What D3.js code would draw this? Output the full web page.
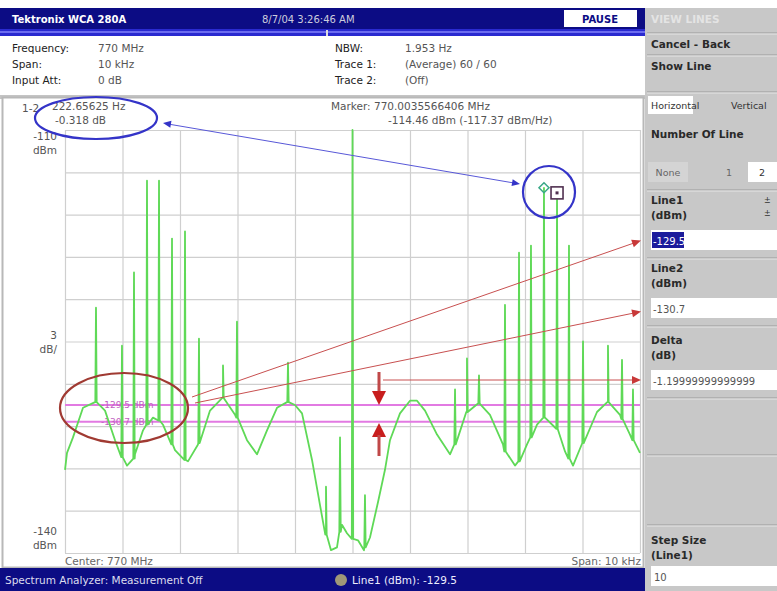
<!DOCTYPE html>
<html><head><meta charset="utf-8">
<script src="https://cdn.jsdelivr.net/npm/d3@7"></script>
<style>html,body{margin:0;padding:0;background:#fff;}svg{display:block;font-family:"DejaVu Sans",sans-serif;}</style>
</head><body>
<svg id="c" width="777" height="591"></svg>
<script>
// ---------- data ----------
// noise floor: frequency offset from centre (kHz), level (dBm)
const floorFreq = [-5.0,-4.965,-4.861,-4.687,-4.478,-4.304,-4.13,-3.922,-3.783,-3.643,-3.47,-3.296,-3.087,-2.861,-2.687,-2.478,-2.252,-2.043,-1.835,-1.661,-1.487,-1.313,-1.139,-1.0,-0.878,-0.704,-0.565,-0.461,-0.374,-0.27,-0.183,-0.096,0.096,0.2,0.304,0.443,0.565,0.652,0.826,1.0,1.122,1.261,1.47,1.696,1.835,1.991,2.183,2.391,2.617,2.826,3.035,3.209,3.348,3.522,3.696,3.835,4.043,4.252,4.443,4.652,4.826,5.0];
const floorLevel = [-134.1,-132.9,-131.8,-129.7,-129.3,-129.9,-132.0,-133.8,-133.0,-131.3,-130.4,-130.9,-132.7,-133.5,-132.3,-129.9,-129.0,-130.2,-132.0,-133.0,-131.3,-129.7,-129.3,-129.5,-130.1,-133.4,-136.6,-138.7,-139.8,-139.6,-138.0,-138.6,-139.1,-139.8,-138.9,-136.4,-134.1,-132.0,-130.1,-129.2,-129.2,-129.9,-131.6,-133.0,-131.8,-130.0,-129.4,-130.2,-132.3,-133.8,-132.3,-130.9,-130.4,-131.1,-132.8,-133.8,-132.0,-130.0,-129.3,-130.2,-131.6,-132.9];
// spectral lines: frequency (kHz), peak (dBm), base (dBm)
const spikeFreq = [-4.461,-4.009,-3.8,-3.574,-3.365,-3.139,-2.913,-2.67,-2.252,-2.009,-1.122,-0.461,-0.217,0.0,0.217,1.783,1.991,2.2,2.652,2.896,3.104,3.33,3.557,3.765,4.009,4.443,4.687,4.878];
const spikePeak = [-122.6,-125.3,-120.1,-113.6,-113.6,-117.7,-117.2,-124.8,-126.7,-123.6,-126.5,-135.3,-131.8,-110.0,-135.9,-128.4,-126.2,-127.4,-122.4,-118.7,-118.2,-114.1,-114.46,-118.2,-125.0,-125.3,-126.3,-128.4];
const spikeBase = [-129.3,-133.2,-133.3,-130.9,-130.6,-132.3,-133.4,-132.2,-129.0,-130.4,-129.3,-138.7,-138.5,-139.0,-139.6,-132.3,-130.0,-129.4,-132.8,-133.5,-131.8,-130.4,-131.2,-133.3,-132.2,-129.3,-130.5,-132.0];
const xGridTicks = [-5,-4,-3,-2,-1,0,1,2,3,4,5];
const yGridTicks = [-140,-137,-134,-131,-128,-125,-122,-119,-116,-113,-110];
const refLines = [-129.5,-130.7];
const refLabels = ["-129.5 dBm","-130.7 dBm"];
const marker1 = {f:3.33, v:-114.1};
const marker2 = {f:3.557, v:-114.46};
const yTopLabel = ["-110","dBm"], yMidLabel = ["3","dB/"], yBotLabel = ["-140","dBm"];

// ---------- layout ----------
const svg = d3.select("#c");
const x = d3.scaleLinear().domain([-5,5]).range([65,640]);
const y = d3.scaleLinear().domain([-140,-110]).range([553,130]);
const NAVY = "#0c0c84";

function txt(g, s, px, py, o={}) {
  return g.append("text").attr("x",px).attr("y",py).text(s)
    .attr("font-size",o.size||10.5).attr("fill",o.fill||"#222")
    .attr("font-weight",o.weight||"normal").attr("text-anchor",o.anchor||"start")
    .attr("font-family",o.family||"DejaVu Sans, sans-serif");
}

// top bar
svg.append("rect").attr("x",0).attr("y",8).attr("width",645).attr("height",21).attr("fill",NAVY);
svg.append("rect").attr("x",0).attr("y",29).attr("width",645).attr("height",7).attr("fill","#2a2ad0");
svg.append("rect").attr("x",0).attr("y",31).attr("width",645).attr("height",2).attr("fill","#6c6cf0");
svg.append("rect").attr("x",326).attr("y",30).attr("width",2).attr("height",6).attr("fill","#ddd");
txt(svg,"Tektronix  WCA 280A",12,23,{fill:"#fff",size:10,weight:"bold"});
txt(svg,"8/7/04 3:26:46 AM",262,23,{fill:"#ccd",size:10});
svg.append("rect").attr("x",564).attr("y",10).attr("width",73).attr("height",17).attr("fill","#fff");
txt(svg,"PAUSE",600,23,{fill:NAVY,size:10,weight:"bold",anchor:"middle"});

// header info
const hdr = svg.append("g");
txt(hdr,"Frequency:",12,52); txt(hdr,"770 MHz",98,52,{fill:"#555"});
txt(hdr,"Span:",12,68); txt(hdr,"10 kHz",98,68,{fill:"#555"});
txt(hdr,"Input Att:",12,84); txt(hdr,"0 dB",98,84,{fill:"#555"});
txt(hdr,"NBW:",335,52); txt(hdr,"1.953 Hz",405,52,{fill:"#555"});
txt(hdr,"Trace 1:",335,68); txt(hdr,"(Average)  60 / 60",405,68,{fill:"#555"});
txt(hdr,"Trace 2:",335,84); txt(hdr,"(Off)",405,84,{fill:"#555"});

// plot frame
svg.append("rect").attr("x",0).attr("y",95).attr("width",645).attr("height",4).attr("fill","#c4c4c4");
svg.append("rect").attr("x",2.5).attr("y",97.5).attr("width",641).attr("height",470).attr("fill","#fff").attr("stroke","#b8b8b8").attr("stroke-width",2);

// grid via axes
const gx = svg.append("g").attr("transform",`translate(0,${y(-140)})`)
  .call(d3.axisBottom(x).tickValues(xGridTicks).tickSize(-(y(-140)-y(-110))).tickFormat(""));
const gy = svg.append("g").attr("transform",`translate(${x(-5)},0)`)
  .call(d3.axisLeft(y).tickValues(yGridTicks).tickSize(-(x(5)-x(-5))).tickFormat(""));
[gx,gy].forEach(g=>{g.select(".domain").remove();g.selectAll("line").attr("stroke","#cfcfcf").attr("stroke-width",1.2);});

// axis labels
txt(svg,yTopLabel[0],57,140,{anchor:"end",fill:"#555"}); txt(svg,yTopLabel[1],57,154,{anchor:"end",fill:"#555"});
txt(svg,yMidLabel[0],57,339,{anchor:"end",fill:"#555"}); txt(svg,yMidLabel[1],57,353,{anchor:"end",fill:"#555"});
txt(svg,yBotLabel[0],57,535,{anchor:"end",fill:"#555"}); txt(svg,yBotLabel[1],57,549,{anchor:"end",fill:"#555"});
txt(svg,"Center: 770 MHz",65,565,{fill:"#666"});
txt(svg,"Span: 10 kHz",641,565,{fill:"#666",anchor:"end"});

// marker readouts
txt(svg,"1-2",22,112,{fill:"#555"});
txt(svg,"222.65625 Hz",52,110,{fill:"#555"});
txt(svg,"-0.318 dB",55,124,{fill:"#555"});
txt(svg,"Marker: 770.0035566406 MHz",331,110,{fill:"#555"});
txt(svg,"-114.46 dBm (-117.37 dBm/Hz)",388,124,{fill:"#555"});

// reference lines
const MAG = "#e27ae2";
refLines.forEach((v,i)=>{
  svg.append("line").attr("x1",x(-5)).attr("x2",x(5)).attr("y1",y(v)).attr("y2",y(v)).attr("stroke",MAG).attr("stroke-width",2);
  txt(svg,refLabels[i],101,y(v)+3,{fill:"#c060c0",size:9});
});

// trace
const pts = floorFreq.map((f,i)=>[f,floorLevel[i]]);
spikeFreq.forEach((f,i)=>{ pts.push([f-0.012,spikeBase[i]],[f,spikePeak[i]],[f+0.012,spikeBase[i]]); });
pts.sort((a,b)=>a[0]-b[0]);
svg.append("path").datum(pts).attr("fill","none").attr("stroke","#5fd957").attr("stroke-width",1.8)
  .attr("stroke-linejoin","round")
  .attr("d",d3.line().x(d=>x(d[0])).y(d=>y(d[1])));

// markers
const m1x=x(marker1.f), m1y=y(marker1.v);
svg.append("path").attr("d",`M${m1x},${m1y-5}L${m1x+5},${m1y}L${m1x},${m1y+5}L${m1x-5},${m1y}Z`).attr("fill","none").attr("stroke","#3aa888").attr("stroke-width",1.5);
const m2x=x(marker2.f), m2y=y(marker2.v);
svg.append("rect").attr("x",m2x-6).attr("y",m2y-6).attr("width",12).attr("height",12).attr("fill","#fff").attr("stroke","#503050").attr("stroke-width",1.6);
svg.append("rect").attr("x",m2x-1.5).attr("y",m2y-1.5).attr("width",3).attr("height",3).attr("fill","#503050");

// blue annotation
const BLUE="#3434c8";
svg.append("ellipse").attr("cx",96).attr("cy",118).attr("rx",61).attr("ry",21).attr("fill","none").attr("stroke",BLUE).attr("stroke-width",2.2);
svg.append("circle").attr("cx",549).attr("cy",192).attr("r",26).attr("fill","none").attr("stroke",BLUE).attr("stroke-width",2.2);
svg.append("line").attr("x1",168).attr("y1",124).attr("x2",514).attr("y2",183).attr("stroke","#5858d8").attr("stroke-width",1);
function head(px,py,ang,len,w,col){
  const a=ang, c=Math.cos(a), s=Math.sin(a);
  const bx=px-len*c, by=py-len*s;
  svg.append("path").attr("d",`M${px},${py}L${bx-w*s},${by+w*c}L${bx+w*s},${by-w*c}Z`).attr("fill",col);
}
head(163,123,Math.atan2(123-183,163-520),8,3.5,BLUE);
head(520,184,Math.atan2(184-123,520-163),8,3.5,BLUE);

// red annotation
const RED="#c83838";
svg.append("ellipse").attr("cx",124).attr("cy",408).attr("rx",64).attr("ry",35).attr("fill","none").attr("stroke","#a03a32").attr("stroke-width",2.2);
[[192,397,634,243],[195,403,634,313],[383,380,634,380]].forEach(l=>{
  svg.append("line").attr("x1",l[0]).attr("y1",l[1]).attr("x2",l[2]).attr("y2",l[3]).attr("stroke","#c85050").attr("stroke-width",1);
  head(l[2]+7,l[3]+(l[3]-l[1])/(l[2]-l[0])*7,Math.atan2(l[3]-l[1],l[2]-l[0]),9,4,RED);
});
svg.append("rect").attr("x",377.5).attr("y",372).attr("width",3).attr("height",21).attr("fill","#c04848");
svg.append("path").attr("d","M372,391L386,391L379,405Z").attr("fill","#c81e1e");
svg.append("path").attr("d","M372,437L386,437L379,423Z").attr("fill","#c81e1e");
svg.append("rect").attr("x",377.5).attr("y",435).attr("width",3).attr("height",21).attr("fill","#c04848");

// status bar
svg.append("rect").attr("x",0).attr("y",568).attr("width",645).attr("height",23).attr("fill",NAVY);
txt(svg,"Spectrum Analyzer: Measurement Off",5,584,{fill:"#dde",size:10.5});
svg.append("circle").attr("cx",341).attr("cy",580).attr("r",6).attr("fill","#a09878");
txt(svg,"Line1 (dBm): -129.5",352,584,{fill:"#eef",size:10.5});

// right panel
const P = svg.append("g");
P.append("rect").attr("x",645).attr("y",0).attr("width",132).attr("height",591).attr("fill","#c8c8c8");
P.append("rect").attr("x",645).attr("y",0).attr("width",132).attr("height",8).attr("fill","#fff");
[33,55,92,190,258,326,398,455,525].forEach(v=>{
  P.append("line").attr("x1",647).attr("x2",777).attr("y1",v).attr("y2",v).attr("stroke","#9a9a9a");
  P.append("line").attr("x1",647).attr("x2",777).attr("y1",v+1).attr("y2",v+1).attr("stroke","#e6e6e6");
});
const B={size:10.5,weight:"bold",fill:"#2a2a2a"};
txt(P,"VIEW LINES",651,23,{size:10.5,weight:"bold",fill:"#e4e4e4"});
txt(P,"Cancel - Back",651,48,B);
txt(P,"Show Line",651,70,B);
P.append("rect").attr("x",648).attr("y",96).attr("width",45).attr("height",18).attr("fill","#fff");
txt(P,"Horizontal",651,109,{size:9.5,fill:"#333"});
txt(P,"Vertical",731,109,{size:9.5,fill:"#333"});
txt(P,"Number Of Line",651,138,B);
P.append("rect").attr("x",648).attr("y",162).attr("width",40).attr("height",20).attr("fill","#d4d4d4");
txt(P,"None",668,176,{size:9.5,fill:"#666",anchor:"middle"});
txt(P,"1",729,176,{size:9.5,fill:"#666",anchor:"middle"});
P.append("rect").attr("x",748).attr("y",162).attr("width",29).attr("height",20).attr("fill","#fff");
txt(P,"2",762,176,{size:9.5,fill:"#333",anchor:"middle"});
txt(P,"Line1",651,204,B); txt(P,"(dBm)",651,219,B);
txt(P,"±",764,203,{size:8,fill:"#333"}); txt(P,"±",764,216,{size:8,fill:"#333"});
P.append("rect").attr("x",651).attr("y",230).attr("width",126).attr("height",20).attr("fill","#fff");
P.append("rect").attr("x",652).attr("y",232).attr("width",32).attr("height",16).attr("fill","#1c1c9c");
txt(P,"-129.5",653,245,{size:10,fill:"#fff"});
txt(P,"Line2",651,272,B); txt(P,"(dBm)",651,287,B);
P.append("rect").attr("x",651).attr("y",298).attr("width",126).attr("height",20).attr("fill","#fff");
txt(P,"-130.7",653,313,{size:10,fill:"#555"});
txt(P,"Delta",651,344,B); txt(P,"(dB)",651,359,B);
P.append("rect").attr("x",651).attr("y",370).attr("width",126).attr("height",20).attr("fill","#fff");
txt(P,"-1.19999999999999",653,385,{size:10,fill:"#555"});
txt(P,"Step Size",651,544,B); txt(P,"(Line1)",651,559,B);
P.append("rect").attr("x",651).attr("y",566).attr("width",126).attr("height",20).attr("fill","#fff");
txt(P,"10",654,581,{size:10,fill:"#555"});
</script>
</body></html>
